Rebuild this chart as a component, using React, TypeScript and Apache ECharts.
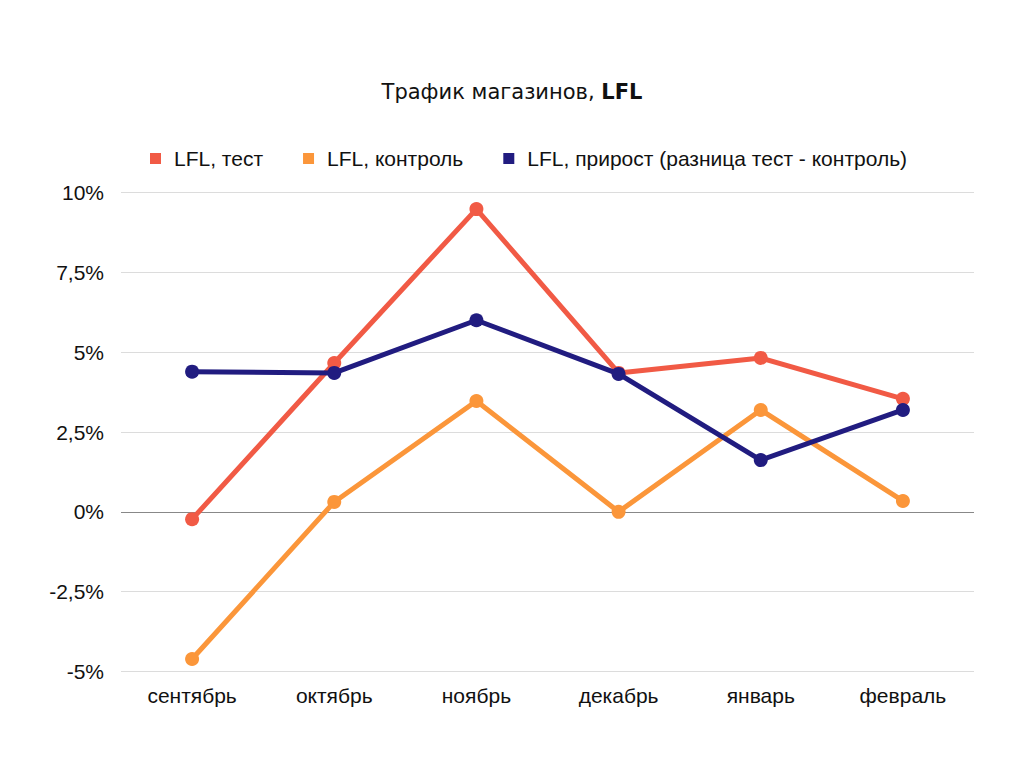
import React, { useEffect, useRef } from "react";
import * as echarts from "echarts";

const categories = ["сентябрь", "октябрь", "ноябрь", "декабрь", "январь", "февраль"];
const testValues = [-0.23, 4.66, 9.48, 4.35, 4.82, 3.54];
const controlValues = [-4.61, 0.31, 3.47, 0.0, 3.19, 0.34];
const diffValues = [4.39, 4.35, 6.0, 4.32, 1.62, 3.19];
const seriesNames = ["LFL, тест", "LFL, контроль", "LFL, прирост (разница тест - контроль)"];
const colors = ["#f15a45", "#fb963a", "#211c80"];

export default function App() {
  const ref = useRef<HTMLDivElement>(null);
  useEffect(() => {
    if (!ref.current) return;
    const chart = echarts.init(ref.current, null, { renderer: "svg" });
    const mk = (name: string, data: number[], color: string, z: number) => ({
      name,
      type: "line",
      data,
      z,
      symbol: "circle",
      symbolSize: 14,
      itemStyle: { color },
      lineStyle: { color, width: 5 },
    });
    chart.setOption({
      animation: false,
      backgroundColor: "#ffffff",
      textStyle: { fontFamily: "Liberation Sans, Arial, sans-serif" },
      title: {
        text: "{a|Трафик магазинов, }{b|LFL}",
        left: "center",
        top: 76,
        textStyle: {
          rich: {
            a: { fontFamily: "DejaVu Sans", fontSize: 21, color: "#111", fontWeight: "normal" },
            b: { fontFamily: "DejaVu Sans", fontSize: 21, color: "#111", fontWeight: "bold" },
          },
        },
      },
      legend: {
        top: 143,
        left: 145,
        icon: "rect",
        itemWidth: 11,
        itemHeight: 11,
        itemGap: 40,
        textStyle: {
          fontSize: 21,
          color: "#111",
          fontFamily: "Liberation Sans, Arial, sans-serif",
          padding: [0, 0, 0, 8],
        },
        data: seriesNames,
      },
      grid: { left: 121, right: 50, top: 192.5, bottom: 96.5 },
      xAxis: {
        type: "category",
        data: categories,
        boundaryGap: true,
        axisLine: { show: false },
        axisTick: { show: false },
        axisLabel: { fontSize: 21, color: "#111", margin: 13 },
      },
      yAxis: {
        type: "value",
        min: -5,
        max: 10,
        interval: 2.5,
        axisLine: { show: false },
        axisTick: { show: false },
        axisLabel: {
          fontSize: 21,
          color: "#111",
          margin: 17,
          formatter: (v: number) => String(v).replace(".", ",") + "%",
        },
        splitLine: {
          lineStyle: {
            color: ["#dcdcdc", "#dcdcdc", "#888888", "#dcdcdc", "#dcdcdc", "#dcdcdc", "#dcdcdc"],
            width: 1,
          },
        },
      },
      series: [
        mk(seriesNames[0], testValues, colors[0], 2),
        mk(seriesNames[1], controlValues, colors[1], 3),
        mk(seriesNames[2], diffValues, colors[2], 4),
      ],
    });
    return () => chart.dispose();
  }, []);
  return (
    <div
      ref={ref}
      style={{ position: "absolute", left: 0, top: 0, width: 1024, height: 768 }}
    />
  );
}
